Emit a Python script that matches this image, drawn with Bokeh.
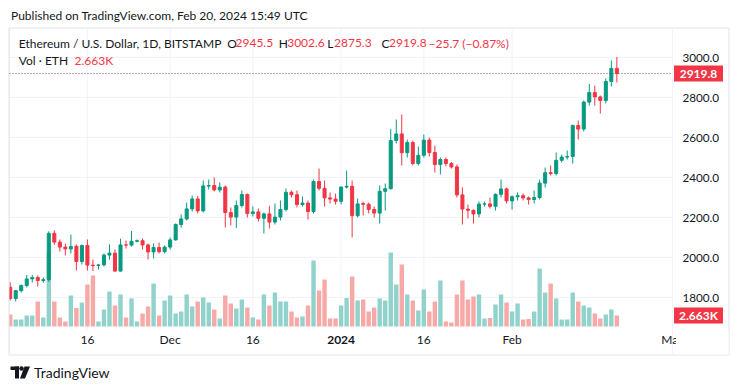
import pandas as pd
from bokeh.plotting import figure
from bokeh.models import Range1d
from bokeh.core.properties import value
from bokeh.embed import file_html
from bokeh.resources import INLINE

# ---------------- data ----------------
DATES = pd.date_range("2023-11-02", "2024-02-20", freq="D")

OPEN = [1851, 1795, 1834, 1860, 1893, 1900, 1885, 1889, 2121, 2077, 2052, 2043, 2056, 1980, 2060, 1962, 1960, 1963, 2012, 2022,
        1932, 2063, 2062, 2081, 2084, 2063, 2028, 2050, 2029,
        2052, 2088, 2165, 2193, 2243, 2293, 2233, 2357, 2360, 2338, 2352, 2225, 2202, 2260, 2315, 2220, 2228, 2196, 2218, 2177,
        2202, 2240, 2326, 2314, 2265, 2272, 2230, 2380, 2346, 2298, 2292,
        2281, 2352, 2356, 2209, 2270, 2266, 2240, 2222, 2331, 2344, 2585, 2618, 2524, 2575, 2470, 2511, 2587, 2525, 2465, 2490,
        2470, 2453, 2313, 2242, 2236, 2218, 2267, 2268, 2256, 2316, 2343,
        2283, 2304, 2309, 2298, 2290, 2300, 2372, 2424, 2420, 2486, 2502, 2505, 2660, 2642, 2777, 2825, 2803, 2785, 2880, 2945.5]
HIGH = [1876, 1838, 1865, 1913, 1913, 1910, 1900, 2131, 2136, 2090, 2070, 2115, 2065, 2065, 2090, 1990, 1968, 2020, 2065, 2040,
        2094, 2085, 2133, 2090, 2095, 2070, 2070, 2075, 2060,
        2100, 2170, 2215, 2275, 2310, 2307, 2385, 2390, 2400, 2375, 2360, 2250, 2285, 2335, 2320, 2255, 2245, 2225, 2258, 2270,
        2285, 2345, 2335, 2335, 2305, 2285, 2390, 2445, 2385, 2325, 2320,
        2355, 2435, 2385, 2295, 2280, 2275, 2255, 2360, 2370, 2643, 2690, 2715, 2590, 2585, 2555, 2615, 2600, 2560, 2500, 2500,
        2478, 2465, 2350, 2265, 2240, 2280, 2280, 2300, 2320, 2390, 2350,
        2310, 2325, 2320, 2305, 2335, 2390, 2450, 2460, 2525, 2515, 2535, 2665, 2685, 2785, 2868, 2860, 2810, 2895, 2985, 3002.6]
LOW = [1785, 1780, 1825, 1850, 1875, 1855, 1874, 1878, 2063, 2030, 2010, 2020, 1935, 1965, 1935, 1932, 1940, 1955, 1990, 1930,
       1930, 2045, 2055, 2075, 2040, 1990, 1995, 2020, 2020,
       2040, 2085, 2150, 2185, 2230, 2220, 2225, 2340, 2330, 2325, 2150, 2160, 2148, 2250, 2200, 2205, 2180, 2120, 2145, 2165,
       2185, 2230, 2300, 2250, 2255, 2190, 2220, 2335, 2255, 2270, 2265,
       2265, 2345, 2100, 2200, 2210, 2220, 2200, 2170, 2235, 2340, 2570, 2460, 2500, 2460, 2460, 2500, 2505, 2425, 2415, 2455,
       2445, 2300, 2165, 2195, 2170, 2200, 2255, 2245, 2235, 2300, 2270,
       2240, 2285, 2285, 2265, 2270, 2290, 2350, 2410, 2410, 2475, 2490, 2470, 2590, 2630, 2760, 2760, 2720, 2770, 2855, 2875.3]
CLOSE = [1795, 1834, 1860, 1893, 1900, 1885, 1889, 2121, 2077, 2052, 2043, 2055, 1980, 2060, 1962, 1960, 1963, 2012, 2022, 1932,
         2063, 2062, 2081, 2084, 2063, 2028, 2050, 2029, 2052,
         2088, 2165, 2193, 2243, 2293, 2233, 2358, 2360, 2338, 2352, 2225, 2202, 2260, 2315, 2220, 2228, 2196, 2218, 2177, 2202,
         2240, 2326, 2314, 2265, 2272, 2230, 2380, 2346, 2298, 2292, 2281,
         2352, 2356, 2209, 2268, 2266, 2240, 2222, 2331, 2344, 2585, 2618, 2524, 2575, 2470, 2511, 2587, 2525, 2465, 2490, 2470,
         2453, 2313, 2242, 2236, 2218, 2267, 2268, 2256, 2316, 2343, 2283,
         2304, 2309, 2298, 2290, 2300, 2372, 2424, 2420, 2486, 2502, 2505, 2660, 2642, 2777, 2825, 2803, 2785, 2880, 2945.5, 2919.8]
VOLUME_K = [2.91, 1.69, 1.69, 2.66, 2.66, 6.05, 2.18, 18.16, 6.05, 2.18, 1.21, 7.51, 4.48, 5.81, 10.17, 12.35, 1.21, 4.12, 8.47, 5.08,
            7.75, 2.18, 6.78, 1.21, 3.15, 4.84, 10.41, 2.66, 6.29,
            7.51, 3.15, 3.63, 7.75, 4.84, 6.05, 7.02, 5.81, 4.12, 1.94, 7.51, 5.57, 4.36, 6.54, 4.60, 2.18, 1.69, 7.75, 5.08, 8.23,
            6.05, 6.05, 3.63, 2.18, 2.42, 5.08, 15.98, 8.72, 11.38, 1.94, 1.94,
            5.08, 6.90, 12.11, 6.29, 6.54, 3.63, 4.60, 6.78, 6.29, 17.92, 10.17, 15.01, 7.75, 6.29, 3.87, 8.96, 3.63, 6.05, 11.14, 1.21,
            0.97, 7.75, 11.14, 6.54, 7.26, 7.75, 1.94, 2.06, 5.33, 7.75, 5.81,
            3.63, 5.57, 1.69, 1.82, 3.63, 14.04, 8.23, 10.41, 6.78, 1.69, 1.69, 8.23, 6.05, 5.08, 4.60, 3.15, 1.94, 2.91, 4.12, 2.663]

PRICE_TICKS = [1800, 2000, 2200, 2400, 2600, 2800, 3000]
TIME_TICKS = ["2023-11-16", "2023-12-01", "2023-12-16", "2024-01-01", "2024-01-16", "2024-02-01", "2024-03-01"]
TIME_LABELS = ["16", "Dec", "16", "2024", "16", "Feb", "Mar"]

SYMBOL = "Ethereum / U.S. Dollar, 1D, BITSTAMP"
PUBLISHED = "Published on TradingView.com, Feb 20, 2024 15:49 UTC"

# ---------------- layout (page pixels -> data) ----------------
W, H = 738, 389
ORIGIN = pd.Timestamp("2024-01-01")
X_JAN1 = 340.6      # page x of Jan 1
PX_DAY = 5.515      # pixels per day
Y_3000 = 57.0       # page y of price 3000
PRICE_PER_PX = 5.0
Y_VOL0 = 326.0      # page y of zero volume
VOL_PER_PX = 0.2421


def X(px):
    return (px - X_JAN1) / PX_DAY


def Y(py):
    return 3000 - (py - Y_3000) * PRICE_PER_PX


def V(py):
    return (Y_VOL0 - py) * VOL_PER_PX


FONT = "Lato"
TXT = "#131722"
UP, DOWN = "#089981", "#f23645"
VUP, VDOWN = "#92d2cc", "#f7a9a7"
GRID = "#f0f3fa"
BORDER = "#e0e3eb"
PRICE_LINE = "#7a4f55"

days = [(d - ORIGIN).days for d in DATES]
up = [c >= o for o, c in zip(OPEN, CLOSE)]
col = [UP if u else DOWN for u in up]
vcol = [VUP if u else VDOWN for u in up]
body_top = [max(o, c) for o, c in zip(OPEN, CLOSE)]
body_bot = [min(o, c) for o, c in zip(OPEN, CLOSE)]
tick_days = [(pd.Timestamp(t) - ORIGIN).days for t in TIME_TICKS]

p = figure(width=W, height=H, output_backend="svg", toolbar_location=None,
           x_axis_location=None, y_axis_location=None, min_border=0,
           x_range=Range1d(X(0), X(W)), y_range=Range1d(Y(H), Y(0)))
p.extra_y_ranges = {"vol": Range1d(V(H), V(0))}
p.outline_line_color = None
p.grid.visible = False
p.background_fill_color = "white"
p.border_fill_color = "white"

# panel frame and separators
p.quad(left=X(8.5), right=X(728.5), top=Y(27.5), bottom=Y(354.5), fill_color=None, line_color=BORDER)
p.segment(x0=[X(672)], x1=[X(672)], y0=[Y(28)], y1=[Y(354)], line_color=GRID)

# grid
pane_ticks = [t for t in tick_days if X(10) < t < X(668)]
p.segment(x0=pane_ticks, x1=pane_ticks, y0=Y(28), y1=Y(329), line_color=GRID)
p.segment(x0=X(9), x1=X(672), y0=PRICE_TICKS, y1=PRICE_TICKS, line_color=GRID)

# volume
p.vbar(x=days, width=0.8, top=VOLUME_K, bottom=0, fill_color=vcol, line_color=None, y_range_name="vol")

# candles
p.segment(x0=days, x1=days, y0=LOW, y1=HIGH, line_color=col, line_width=1)
p.vbar(x=days, width=0.55, top=body_top, bottom=body_bot, fill_color=col, line_color=col, line_width=1)

# panel clip on the left
p.quad(left=X(0), right=X(8.5), top=Y(27), bottom=Y(355), fill_color="white", line_color=None)
p.segment(x0=[X(8.5)], x1=[X(8.5)], y0=[Y(27.5)], y1=[Y(354.5)], line_color=BORDER)

# last price line
p.segment(x0=[X(9)], x1=[X(672)], y0=[CLOSE[-1]], y1=[CLOSE[-1]], line_color=PRICE_LINE, line_dash="1 2",
          line_width=1)

# price scale labels
p.text(x=X(682), y=PRICE_TICKS, text=[f"{t:.1f}" for t in PRICE_TICKS], text_font=value(FONT),
       text_font_size="11.7px", text_color=TXT, text_align="left", text_baseline="middle")
p.rect(x=X(698), y=CLOSE[-1], width=49, height=16, width_units="screen", height_units="screen",
       fill_color=DOWN, line_color=None)
p.text(x=X(698), y=[CLOSE[-1]], text=[f"{CLOSE[-1]:.1f}"], text_font=value(FONT), text_font_size="12px",
       text_font_style="bold", text_color="white", text_align="center", text_baseline="middle")
p.rect(x=X(698), y=VOLUME_K[-1], width=49, height=16, width_units="screen", height_units="screen",
       fill_color=DOWN, line_color=None, y_range_name="vol")
p.text(x=X(698), y=[VOLUME_K[-1]], text=[f"{VOLUME_K[-1]:.3f}K"], text_font=value(FONT), text_font_size="12px",
       text_font_style="bold", text_color="white", text_align="center", text_baseline="middle", y_range_name="vol")

# time scale labels
for t, lab in zip(tick_days, TIME_LABELS):
    p.text(x=[t], y=[Y(339)], text=[lab], text_font=value(FONT), text_font_size="12px", text_color=TXT,
           text_align="center", text_baseline="middle", text_font_style="bold" if lab == "2024" else "normal")
# price-scale corner hides overflow of the last time label
p.quad(left=X(675.5), right=X(728), top=Y(330), bottom=Y(354), fill_color="white", line_color=None)


# legend
def txt(px, py, s, color=TXT, size="12px", style="normal"):
    p.text(x=[X(px)], y=[Y(py)], text=[s], text_font=value(FONT), text_font_size=size, text_color=color,
           text_align="left", text_baseline="middle", text_font_style=style)


txt(10.5, 14.7, PUBLISHED, size="12px")
txt(18.3, 42.5, SYMBOL, size="12px")
ch = CLOSE[-1] - CLOSE[-2]
for lx, vx, k, v in [(226.7, 235.0, "O", OPEN[-1]), (278.3, 286.7, "H", HIGH[-1]),
                     (326.7, 333.5, "L", LOW[-1]), (381.0, 388.5, "C", CLOSE[-1])]:
    txt(lx, 42.5, k, size="12px")
    txt(vx, 42.5, f"{v:.1f}", color=DOWN)
txt(428, 42.5, f"\u2212{abs(ch):.1f} (\u2212{abs(ch) / CLOSE[-2] * 100:.2f}%)", color=DOWN)
txt(18.3, 59.5, "Vol \u00b7 ETH", size="12px")
txt(74, 59.5, f"{VOLUME_K[-1]:.3f}K", color=DOWN)

# logo
p.quad(left=[X(10)], right=[X(18.5)], top=[Y(366)], bottom=[Y(369.5)], fill_color=TXT, line_color=None)
p.quad(left=[X(14.5)], right=[X(18.5)], top=[Y(366)], bottom=[Y(378)], fill_color=TXT, line_color=None)
p.scatter(x=[X(21)], y=[Y(368)], size=4.5, fill_color=TXT, line_color=None)
p.patch(x=[X(24), X(29.5), X(24.5), X(19.5)], y=[Y(366), Y(366), Y(378), Y(378)], fill_color=TXT, line_color=None)
txt(33.5, 372, "TradingView", size="14px")

open("out.html", "w").write(file_html(p, INLINE))
